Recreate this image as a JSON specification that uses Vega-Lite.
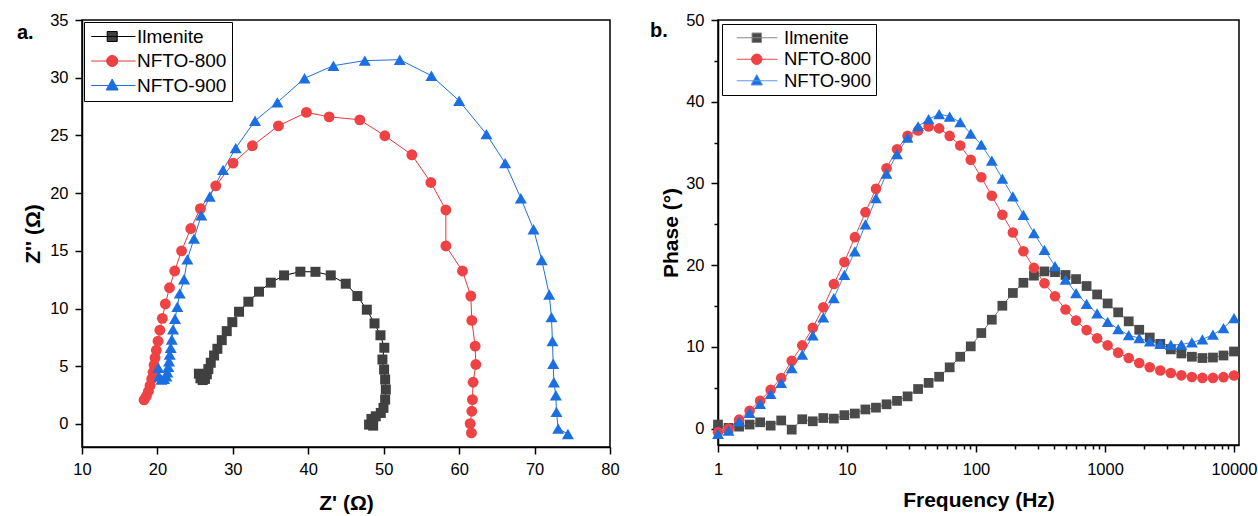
{
  "$schema": "https://vega.github.io/schema/vega-lite/v6.json",
  "background": "white",
  "padding": {"left": 16, "top": 11, "right": 0, "bottom": 0},
  "config": {
    "view": {"stroke": "black", "strokeWidth": 1.5},
    "axis": {
      "domainColor": "black", "domainWidth": 1.5, "tickColor": "black", "tickWidth": 1.5,
      "labelFont": "Liberation Sans", "labelFontSize": 16.5, "labelColor": "black", "labelPadding": 7,
      "titleFont": "Liberation Sans", "titleFontSize": 21, "titleFontWeight": "bold", "titleColor": "black",
      "grid": false, "labelFlush": false
    }
  },
  "datasets": {
    "nyq": [
      {"sample": "Ilmenite", "n": 1, "zre": 25.5, "zim": 4.35},
      {"sample": "Ilmenite", "n": 2, "zre": 25.7, "zim": 3.95},
      {"sample": "Ilmenite", "n": 3, "zre": 26.0, "zim": 3.8},
      {"sample": "Ilmenite", "n": 4, "zre": 26.3, "zim": 3.9},
      {"sample": "Ilmenite", "n": 5, "zre": 26.55, "zim": 4.3},
      {"sample": "Ilmenite", "n": 6, "zre": 26.75, "zim": 4.75},
      {"sample": "Ilmenite", "n": 7, "zre": 27.07, "zim": 5.3},
      {"sample": "Ilmenite", "n": 8, "zre": 27.51, "zim": 5.93},
      {"sample": "Ilmenite", "n": 9, "zre": 27.95, "zim": 6.51},
      {"sample": "Ilmenite", "n": 10, "zre": 28.53, "zim": 7.26},
      {"sample": "Ilmenite", "n": 11, "zre": 29.19, "zim": 8.04},
      {"sample": "Ilmenite", "n": 12, "zre": 29.93, "zim": 8.82},
      {"sample": "Ilmenite", "n": 13, "zre": 30.82, "zim": 9.72},
      {"sample": "Ilmenite", "n": 14, "zre": 32.06, "zim": 10.59},
      {"sample": "Ilmenite", "n": 15, "zre": 33.47, "zim": 11.46},
      {"sample": "Ilmenite", "n": 16, "zre": 35.03, "zim": 12.24},
      {"sample": "Ilmenite", "n": 17, "zre": 36.79, "zim": 12.87},
      {"sample": "Ilmenite", "n": 18, "zre": 38.95, "zim": 13.19},
      {"sample": "Ilmenite", "n": 19, "zre": 40.95, "zim": 13.18},
      {"sample": "Ilmenite", "n": 20, "zre": 42.98, "zim": 12.87},
      {"sample": "Ilmenite", "n": 21, "zre": 44.97, "zim": 12.15},
      {"sample": "Ilmenite", "n": 22, "zre": 46.51, "zim": 11.08},
      {"sample": "Ilmenite", "n": 23, "zre": 47.76, "zim": 9.9},
      {"sample": "Ilmenite", "n": 24, "zre": 48.78, "zim": 8.71},
      {"sample": "Ilmenite", "n": 25, "zre": 49.57, "zim": 7.68},
      {"sample": "Ilmenite", "n": 26, "zre": 50.08, "zim": 6.6},
      {"sample": "Ilmenite", "n": 27, "zre": 49.83, "zim": 5.58},
      {"sample": "Ilmenite", "n": 28, "zre": 50.05, "zim": 4.71},
      {"sample": "Ilmenite", "n": 29, "zre": 50.19, "zim": 3.85},
      {"sample": "Ilmenite", "n": 30, "zre": 50.28, "zim": 2.98},
      {"sample": "Ilmenite", "n": 31, "zre": 50.19, "zim": 2.11},
      {"sample": "Ilmenite", "n": 32, "zre": 49.97, "zim": 1.39},
      {"sample": "Ilmenite", "n": 33, "zre": 49.61, "zim": 0.95},
      {"sample": "Ilmenite", "n": 34, "zre": 48.95, "zim": 0.66},
      {"sample": "Ilmenite", "n": 35, "zre": 48.37, "zim": 0.43},
      {"sample": "Ilmenite", "n": 36, "zre": 48.06, "zim": -0.06},
      {"sample": "Ilmenite", "n": 37, "zre": 48.6, "zim": -0.15},
      {"sample": "NFTO-800", "n": 1, "zre": 18.22, "zim": 2.08},
      {"sample": "NFTO-800", "n": 2, "zre": 18.53, "zim": 2.4},
      {"sample": "NFTO-800", "n": 3, "zre": 18.8, "zim": 2.83},
      {"sample": "NFTO-800", "n": 4, "zre": 19.02, "zim": 3.32},
      {"sample": "NFTO-800", "n": 5, "zre": 19.24, "zim": 3.9},
      {"sample": "NFTO-800", "n": 6, "zre": 19.42, "zim": 4.48},
      {"sample": "NFTO-800", "n": 7, "zre": 19.55, "zim": 5.1},
      {"sample": "NFTO-800", "n": 8, "zre": 19.68, "zim": 5.73},
      {"sample": "NFTO-800", "n": 9, "zre": 19.85, "zim": 6.38},
      {"sample": "NFTO-800", "n": 10, "zre": 20.08, "zim": 7.17},
      {"sample": "NFTO-800", "n": 11, "zre": 20.32, "zim": 8.12},
      {"sample": "NFTO-800", "n": 12, "zre": 20.65, "zim": 9.15},
      {"sample": "NFTO-800", "n": 13, "zre": 21.05, "zim": 10.4},
      {"sample": "NFTO-800", "n": 14, "zre": 21.6, "zim": 11.8},
      {"sample": "NFTO-800", "n": 15, "zre": 22.29, "zim": 13.25},
      {"sample": "NFTO-800", "n": 16, "zre": 23.2, "zim": 15.0},
      {"sample": "NFTO-800", "n": 17, "zre": 24.42, "zim": 16.93},
      {"sample": "NFTO-800", "n": 18, "zre": 25.69, "zim": 18.66},
      {"sample": "NFTO-800", "n": 19, "zre": 27.73, "zim": 20.63},
      {"sample": "NFTO-800", "n": 20, "zre": 30.03, "zim": 22.6},
      {"sample": "NFTO-800", "n": 21, "zre": 32.59, "zim": 24.1},
      {"sample": "NFTO-800", "n": 22, "zre": 36.04, "zim": 25.83},
      {"sample": "NFTO-800", "n": 23, "zre": 39.75, "zim": 26.99},
      {"sample": "NFTO-800", "n": 24, "zre": 42.76, "zim": 26.61},
      {"sample": "NFTO-800", "n": 25, "zre": 46.83, "zim": 26.35},
      {"sample": "NFTO-800", "n": 26, "zre": 50.15, "zim": 24.97},
      {"sample": "NFTO-800", "n": 27, "zre": 53.73, "zim": 23.32},
      {"sample": "NFTO-800", "n": 28, "zre": 56.25, "zim": 20.92},
      {"sample": "NFTO-800", "n": 29, "zre": 58.24, "zim": 18.54},
      {"sample": "NFTO-800", "n": 30, "zre": 58.24, "zim": 15.42},
      {"sample": "NFTO-800", "n": 31, "zre": 60.44, "zim": 13.25},
      {"sample": "NFTO-800", "n": 32, "zre": 61.55, "zim": 11.08},
      {"sample": "NFTO-800", "n": 33, "zre": 61.68, "zim": 8.97},
      {"sample": "NFTO-800", "n": 34, "zre": 62.12, "zim": 6.74},
      {"sample": "NFTO-800", "n": 35, "zre": 62.21, "zim": 5.15},
      {"sample": "NFTO-800", "n": 36, "zre": 61.85, "zim": 3.61},
      {"sample": "NFTO-800", "n": 37, "zre": 61.76, "zim": 2.11},
      {"sample": "NFTO-800", "n": 38, "zre": 61.68, "zim": 1.1},
      {"sample": "NFTO-800", "n": 39, "zre": 61.46, "zim": 0.03},
      {"sample": "NFTO-800", "n": 40, "zre": 61.63, "zim": -0.78},
      {"sample": "NFTO-900", "n": 1, "zre": 20.12, "zim": 4.86},
      {"sample": "NFTO-900", "n": 2, "zre": 20.21, "zim": 4.13},
      {"sample": "NFTO-900", "n": 3, "zre": 20.52, "zim": 3.85},
      {"sample": "NFTO-900", "n": 4, "zre": 20.88, "zim": 3.9},
      {"sample": "NFTO-900", "n": 5, "zre": 21.19, "zim": 4.13},
      {"sample": "NFTO-900", "n": 6, "zre": 21.32, "zim": 4.48},
      {"sample": "NFTO-900", "n": 7, "zre": 21.45, "zim": 4.95},
      {"sample": "NFTO-900", "n": 8, "zre": 21.54, "zim": 5.43},
      {"sample": "NFTO-900", "n": 9, "zre": 21.63, "zim": 6.02},
      {"sample": "NFTO-900", "n": 10, "zre": 21.76, "zim": 6.6},
      {"sample": "NFTO-900", "n": 11, "zre": 21.9, "zim": 7.32},
      {"sample": "NFTO-900", "n": 12, "zre": 22.07, "zim": 8.19},
      {"sample": "NFTO-900", "n": 13, "zre": 22.33, "zim": 9.11},
      {"sample": "NFTO-900", "n": 14, "zre": 22.64, "zim": 10.15},
      {"sample": "NFTO-900", "n": 15, "zre": 22.96, "zim": 11.31},
      {"sample": "NFTO-900", "n": 16, "zre": 23.53, "zim": 12.53},
      {"sample": "NFTO-900", "n": 17, "zre": 23.97, "zim": 14.26},
      {"sample": "NFTO-900", "n": 18, "zre": 24.85, "zim": 16.06},
      {"sample": "NFTO-900", "n": 19, "zre": 25.82, "zim": 18.08},
      {"sample": "NFTO-900", "n": 20, "zre": 26.94, "zim": 19.7},
      {"sample": "NFTO-900", "n": 21, "zre": 28.7, "zim": 22.01},
      {"sample": "NFTO-900", "n": 22, "zre": 30.38, "zim": 23.9},
      {"sample": "NFTO-900", "n": 23, "zre": 32.94, "zim": 26.27},
      {"sample": "NFTO-900", "n": 24, "zre": 35.9, "zim": 27.86},
      {"sample": "NFTO-900", "n": 25, "zre": 39.5, "zim": 29.95},
      {"sample": "NFTO-900", "n": 26, "zre": 43.33, "zim": 31.04},
      {"sample": "NFTO-900", "n": 27, "zre": 47.49, "zim": 31.48},
      {"sample": "NFTO-900", "n": 28, "zre": 52.13, "zim": 31.56},
      {"sample": "NFTO-900", "n": 29, "zre": 56.33, "zim": 30.17},
      {"sample": "NFTO-900", "n": 30, "zre": 60.0, "zim": 28.0},
      {"sample": "NFTO-900", "n": 31, "zre": 63.62, "zim": 25.11},
      {"sample": "NFTO-900", "n": 32, "zre": 66.1, "zim": 22.6},
      {"sample": "NFTO-900", "n": 33, "zre": 68.18, "zim": 19.56},
      {"sample": "NFTO-900", "n": 34, "zre": 69.86, "zim": 16.87},
      {"sample": "NFTO-900", "n": 35, "zre": 70.95, "zim": 14.2},
      {"sample": "NFTO-900", "n": 36, "zre": 71.94, "zim": 11.22},
      {"sample": "NFTO-900", "n": 37, "zre": 72.24, "zim": 9.25},
      {"sample": "NFTO-900", "n": 38, "zre": 72.37, "zim": 7.17},
      {"sample": "NFTO-900", "n": 39, "zre": 72.47, "zim": 5.21},
      {"sample": "NFTO-900", "n": 40, "zre": 72.56, "zim": 3.61},
      {"sample": "NFTO-900", "n": 41, "zre": 72.82, "zim": 2.48},
      {"sample": "NFTO-900", "n": 42, "zre": 72.9, "zim": 1.04},
      {"sample": "NFTO-900", "n": 43, "zre": 73.13, "zim": -0.41},
      {"sample": "NFTO-900", "n": 44, "zre": 74.42, "zim": -0.87}
    ],
    "bode": [
      {"sample": "Ilmenite", "freq": 1, "phase": 0.5},
      {"sample": "Ilmenite", "freq": 1.207, "phase": 0.1},
      {"sample": "Ilmenite", "freq": 1.457, "phase": 0.25},
      {"sample": "Ilmenite", "freq": 1.758, "phase": 0.5},
      {"sample": "Ilmenite", "freq": 2.121, "phase": 0.78},
      {"sample": "Ilmenite", "freq": 2.56, "phase": 0.37},
      {"sample": "Ilmenite", "freq": 3.089, "phase": 1.0},
      {"sample": "Ilmenite", "freq": 3.728, "phase": -0.12},
      {"sample": "Ilmenite", "freq": 4.498, "phase": 1.15},
      {"sample": "Ilmenite", "freq": 5.429, "phase": 0.9},
      {"sample": "Ilmenite", "freq": 6.551, "phase": 1.3},
      {"sample": "Ilmenite", "freq": 7.906, "phase": 1.23},
      {"sample": "Ilmenite", "freq": 9.541, "phase": 1.65},
      {"sample": "Ilmenite", "freq": 11.51, "phase": 1.85},
      {"sample": "Ilmenite", "freq": 13.89, "phase": 2.35},
      {"sample": "Ilmenite", "freq": 16.77, "phase": 2.57},
      {"sample": "Ilmenite", "freq": 20.24, "phase": 2.98},
      {"sample": "Ilmenite", "freq": 24.42, "phase": 3.4},
      {"sample": "Ilmenite", "freq": 29.47, "phase": 3.95},
      {"sample": "Ilmenite", "freq": 35.56, "phase": 4.85},
      {"sample": "Ilmenite", "freq": 42.92, "phase": 5.6},
      {"sample": "Ilmenite", "freq": 51.79, "phase": 6.35},
      {"sample": "Ilmenite", "freq": 62.51, "phase": 7.5},
      {"sample": "Ilmenite", "freq": 75.43, "phase": 8.8},
      {"sample": "Ilmenite", "freq": 91.03, "phase": 10.07},
      {"sample": "Ilmenite", "freq": 109.9, "phase": 11.7},
      {"sample": "Ilmenite", "freq": 132.6, "phase": 13.33},
      {"sample": "Ilmenite", "freq": 160.0, "phase": 15.04},
      {"sample": "Ilmenite", "freq": 193.1, "phase": 16.6},
      {"sample": "Ilmenite", "freq": 233.0, "phase": 17.85},
      {"sample": "Ilmenite", "freq": 281.2, "phase": 18.72},
      {"sample": "Ilmenite", "freq": 339.3, "phase": 19.24},
      {"sample": "Ilmenite", "freq": 409.5, "phase": 19.15},
      {"sample": "Ilmenite", "freq": 494.2, "phase": 18.8},
      {"sample": "Ilmenite", "freq": 596.4, "phase": 18.3},
      {"sample": "Ilmenite", "freq": 719.7, "phase": 17.45},
      {"sample": "Ilmenite", "freq": 868.5, "phase": 16.42},
      {"sample": "Ilmenite", "freq": 1048, "phase": 15.32},
      {"sample": "Ilmenite", "freq": 1265, "phase": 14.23},
      {"sample": "Ilmenite", "freq": 1526, "phase": 13.13},
      {"sample": "Ilmenite", "freq": 1842, "phase": 12.1},
      {"sample": "Ilmenite", "freq": 2223, "phase": 11.15},
      {"sample": "Ilmenite", "freq": 2683, "phase": 10.38},
      {"sample": "Ilmenite", "freq": 3237, "phase": 9.7},
      {"sample": "Ilmenite", "freq": 3907, "phase": 9.2},
      {"sample": "Ilmenite", "freq": 4715, "phase": 8.8},
      {"sample": "Ilmenite", "freq": 5690, "phase": 8.64},
      {"sample": "Ilmenite", "freq": 6866, "phase": 8.7},
      {"sample": "Ilmenite", "freq": 8286, "phase": 8.95},
      {"sample": "Ilmenite", "freq": 10000, "phase": 9.44},
      {"sample": "NFTO-800", "freq": 1, "phase": -0.45},
      {"sample": "NFTO-800", "freq": 1.207, "phase": 0.0},
      {"sample": "NFTO-800", "freq": 1.457, "phase": 1.1},
      {"sample": "NFTO-800", "freq": 1.758, "phase": 2.2},
      {"sample": "NFTO-800", "freq": 2.121, "phase": 3.42},
      {"sample": "NFTO-800", "freq": 2.56, "phase": 4.77},
      {"sample": "NFTO-800", "freq": 3.089, "phase": 6.2},
      {"sample": "NFTO-800", "freq": 3.728, "phase": 8.31},
      {"sample": "NFTO-800", "freq": 4.498, "phase": 10.19},
      {"sample": "NFTO-800", "freq": 5.429, "phase": 12.35},
      {"sample": "NFTO-800", "freq": 6.551, "phase": 14.84},
      {"sample": "NFTO-800", "freq": 7.906, "phase": 17.69},
      {"sample": "NFTO-800", "freq": 9.541, "phase": 20.38},
      {"sample": "NFTO-800", "freq": 11.51, "phase": 23.43},
      {"sample": "NFTO-800", "freq": 13.89, "phase": 26.49},
      {"sample": "NFTO-800", "freq": 16.77, "phase": 29.34},
      {"sample": "NFTO-800", "freq": 20.24, "phase": 31.87},
      {"sample": "NFTO-800", "freq": 24.42, "phase": 34.19},
      {"sample": "NFTO-800", "freq": 29.47, "phase": 35.82},
      {"sample": "NFTO-800", "freq": 35.56, "phase": 36.48},
      {"sample": "NFTO-800", "freq": 42.92, "phase": 36.97},
      {"sample": "NFTO-800", "freq": 51.79, "phase": 36.74},
      {"sample": "NFTO-800", "freq": 62.51, "phase": 35.82},
      {"sample": "NFTO-800", "freq": 75.43, "phase": 34.64},
      {"sample": "NFTO-800", "freq": 91.03, "phase": 32.89},
      {"sample": "NFTO-800", "freq": 109.9, "phase": 30.75},
      {"sample": "NFTO-800", "freq": 132.6, "phase": 28.49},
      {"sample": "NFTO-800", "freq": 160.0, "phase": 26.18},
      {"sample": "NFTO-800", "freq": 193.1, "phase": 24.0},
      {"sample": "NFTO-800", "freq": 233.0, "phase": 21.7},
      {"sample": "NFTO-800", "freq": 281.2, "phase": 19.67},
      {"sample": "NFTO-800", "freq": 339.3, "phase": 17.8},
      {"sample": "NFTO-800", "freq": 409.5, "phase": 16.2},
      {"sample": "NFTO-800", "freq": 494.2, "phase": 14.57},
      {"sample": "NFTO-800", "freq": 596.4, "phase": 13.22},
      {"sample": "NFTO-800", "freq": 719.7, "phase": 12.06},
      {"sample": "NFTO-800", "freq": 868.5, "phase": 11.05},
      {"sample": "NFTO-800", "freq": 1048, "phase": 10.19},
      {"sample": "NFTO-800", "freq": 1265, "phase": 9.3},
      {"sample": "NFTO-800", "freq": 1526, "phase": 8.64},
      {"sample": "NFTO-800", "freq": 1842, "phase": 8.03},
      {"sample": "NFTO-800", "freq": 2223, "phase": 7.52},
      {"sample": "NFTO-800", "freq": 2683, "phase": 7.11},
      {"sample": "NFTO-800", "freq": 3237, "phase": 6.81},
      {"sample": "NFTO-800", "freq": 3907, "phase": 6.52},
      {"sample": "NFTO-800", "freq": 4715, "phase": 6.32},
      {"sample": "NFTO-800", "freq": 5690, "phase": 6.21},
      {"sample": "NFTO-800", "freq": 6866, "phase": 6.21},
      {"sample": "NFTO-800", "freq": 8286, "phase": 6.3},
      {"sample": "NFTO-800", "freq": 10000, "phase": 6.5},
      {"sample": "NFTO-900", "freq": 1, "phase": -0.65},
      {"sample": "NFTO-900", "freq": 1.207, "phase": -0.24},
      {"sample": "NFTO-900", "freq": 1.457, "phase": 0.9},
      {"sample": "NFTO-900", "freq": 1.758, "phase": 1.92},
      {"sample": "NFTO-900", "freq": 2.121, "phase": 3.02},
      {"sample": "NFTO-900", "freq": 2.56, "phase": 4.24},
      {"sample": "NFTO-900", "freq": 3.089, "phase": 5.59},
      {"sample": "NFTO-900", "freq": 3.728, "phase": 7.42},
      {"sample": "NFTO-900", "freq": 4.498, "phase": 9.05},
      {"sample": "NFTO-900", "freq": 5.429, "phase": 11.42},
      {"sample": "NFTO-900", "freq": 6.551, "phase": 13.62},
      {"sample": "NFTO-900", "freq": 7.906, "phase": 15.98},
      {"sample": "NFTO-900", "freq": 9.541, "phase": 18.83},
      {"sample": "NFTO-900", "freq": 11.51, "phase": 21.7},
      {"sample": "NFTO-900", "freq": 13.89, "phase": 25.0},
      {"sample": "NFTO-900", "freq": 16.77, "phase": 28.2},
      {"sample": "NFTO-900", "freq": 20.24, "phase": 31.2},
      {"sample": "NFTO-900", "freq": 24.42, "phase": 33.58},
      {"sample": "NFTO-900", "freq": 29.47, "phase": 35.62},
      {"sample": "NFTO-900", "freq": 35.56, "phase": 37.0},
      {"sample": "NFTO-900", "freq": 42.92, "phase": 37.86},
      {"sample": "NFTO-900", "freq": 51.79, "phase": 38.49},
      {"sample": "NFTO-900", "freq": 62.51, "phase": 38.19},
      {"sample": "NFTO-900", "freq": 75.43, "phase": 37.5},
      {"sample": "NFTO-900", "freq": 91.03, "phase": 36.1},
      {"sample": "NFTO-900", "freq": 109.9, "phase": 34.75},
      {"sample": "NFTO-900", "freq": 132.6, "phase": 32.8},
      {"sample": "NFTO-900", "freq": 160.0, "phase": 30.6},
      {"sample": "NFTO-900", "freq": 193.1, "phase": 28.41},
      {"sample": "NFTO-900", "freq": 233.0, "phase": 26.16},
      {"sample": "NFTO-900", "freq": 281.2, "phase": 23.92},
      {"sample": "NFTO-900", "freq": 339.3, "phase": 21.88},
      {"sample": "NFTO-900", "freq": 409.5, "phase": 19.9},
      {"sample": "NFTO-900", "freq": 494.2, "phase": 18.22},
      {"sample": "NFTO-900", "freq": 596.4, "phase": 16.59},
      {"sample": "NFTO-900", "freq": 719.7, "phase": 15.28},
      {"sample": "NFTO-900", "freq": 868.5, "phase": 14.1},
      {"sample": "NFTO-900", "freq": 1048, "phase": 13.07},
      {"sample": "NFTO-900", "freq": 1265, "phase": 12.19},
      {"sample": "NFTO-900", "freq": 1526, "phase": 11.43},
      {"sample": "NFTO-900", "freq": 1842, "phase": 11.07},
      {"sample": "NFTO-900", "freq": 2223, "phase": 10.68},
      {"sample": "NFTO-900", "freq": 2683, "phase": 10.37},
      {"sample": "NFTO-900", "freq": 3237, "phase": 10.25},
      {"sample": "NFTO-900", "freq": 3907, "phase": 10.29},
      {"sample": "NFTO-900", "freq": 4715, "phase": 10.56},
      {"sample": "NFTO-900", "freq": 5690, "phase": 10.92},
      {"sample": "NFTO-900", "freq": 6866, "phase": 11.5},
      {"sample": "NFTO-900", "freq": 8286, "phase": 12.31},
      {"sample": "NFTO-900", "freq": 10000, "phase": 13.53}
    ]
  },
  "spacing": 29,
  "resolve": {
    "scale": {"x": "independent", "y": "independent", "fill": "independent", "stroke": "independent", "shape": "independent"},
    "legend": {"fill": "independent", "stroke": "independent", "shape": "independent"}
  },
  "hconcat": [
    {
      "width": 528,
      "height": 427,
      "layer": [
        {
          "data": {"name": "nyq"},
          "mark": {"type": "line", "strokeWidth": 1},
          "encoding": {
            "x": {"field": "zre", "type": "quantitative", "scale": {"domain": [10, 80], "nice": false, "zero": false},
              "axis": {"title": "Z' (Ω)", "titlePadding": 15,
                "values": [10, 15, 20, 25, 30, 35, 40, 45, 50, 55, 60, 65, 70, 75, 80],
                "labelExpr": "datum.value % 10 === 0 ? datum.label : ''",
                "tickSize": {"condition": {"test": "datum.value % 10 === 0", "value": 7}, "value": 4}}},
            "y": {"field": "zim", "type": "quantitative", "scale": {"domain": [-2, 35], "nice": false, "zero": false},
              "axis": {"title": "Z'' (Ω)", "titlePadding": 6,
                "values": [0, 2.5, 5, 7.5, 10, 12.5, 15, 17.5, 20, 22.5, 25, 27.5, 30, 32.5, 35],
                "labelExpr": "datum.value % 5 === 0 ? datum.label : ''",
                "tickSize": {"condition": {"test": "datum.value % 5 === 0", "value": 7}, "value": 4}}},
            "order": {"field": "n", "type": "quantitative"},
            "detail": {"field": "sample", "type": "nominal"},
            "stroke": {"condition": [{"test": "datum.sample === 'Ilmenite'", "value": "#000000"}, {"test": "datum.sample === 'NFTO-800'", "value": "#e8383b"}], "value": "#1f6fe0"}
          }
        },
        {
          "data": {"name": "nyq"},
          "mark": {"type": "point", "filled": true, "opacity": 1, "strokeWidth": 0},
          "encoding": {
            "x": {"field": "zre", "type": "quantitative"},
            "y": {"field": "zim", "type": "quantitative"},
            "size": {"condition": [{"test": "datum.sample === 'Ilmenite'", "value": 100}, {"test": "datum.sample === 'NFTO-800'", "value": 118}], "value": 144},
            "shape": {"condition": [{"test": "datum.sample === 'Ilmenite'", "value": "square"}, {"test": "datum.sample === 'NFTO-800'", "value": "circle"}], "value": "triangle-up"},
            "color": {"condition": [{"test": "datum.sample === 'Ilmenite'", "value": "#404040"}, {"test": "datum.sample === 'NFTO-800'", "value": "#ef4245"}], "value": "#1b6fe0"}
          }
        },
        {
          "data": {"name": "nyq"},
          "transform": [{"filter": "false"}],
          "mark": {"type": "point", "filled": true, "opacity": 1},
          "encoding": {
            "x": {"field": "zre", "type": "quantitative"},
            "y": {"field": "zim", "type": "quantitative"},
            "fill": {"field": "sample", "type": "nominal",
              "scale": {"domain": ["Ilmenite", "NFTO-800", "NFTO-900"], "range": ["#404040", "#ef4245", "#1b6fe0"]},
              "legend": {
                "title": null, "orient": "top-left", "offset": 2,
                "fillColor": "white", "strokeColor": "black",
                "padding": 5, "rowPadding": 4.5,
                "labelFont": "Liberation Sans", "labelFontSize": 19, "labelColor": "black",
                "symbolSize": 100, "labelOffset": 29, "symbolStrokeWidth": 1, "symbolOpacity": 1
              }},
            "stroke": {"field": "sample", "type": "nominal",
              "scale": {"domain": ["Ilmenite", "NFTO-800", "NFTO-900"], "range": ["#000000", "#e8383b", "#1f6fe0"]},
              "legend": {"title": null}},
            "shape": {"field": "sample", "type": "nominal",
              "scale": {"domain": ["Ilmenite", "NFTO-800", "NFTO-900"], "range": [
                "M-1.46,0H7.4M1.74,-1H3.74V1H1.74Z",
                "M3.84,0A1.1,1.1,0,1,1,1.64,0A1.1,1.1,0,1,1,3.84,0Z M-1.46,0H7.4",
                "M2.74,-1.3L3.94,0.9L1.54,0.9Z M-1.46,0H7.4"]},
              "legend": {"title": null}}
          }
        },
        {
          "data": {"values": [{"label": "a."}]},
          "mark": {"type": "text", "align": "left", "baseline": "alphabetic", "font": "Liberation Sans", "fontSize": 20, "fontWeight": "bold", "color": "black"},
          "encoding": {
            "x": {"datum": 1.38, "type": "quantitative"},
            "y": {"datum": 33.35, "type": "quantitative"},
            "text": {"field": "label", "type": "nominal"}
          }
        }
      ]
    },
    {
      "width": 521,
      "height": 425,
      "layer": [
        {
          "data": {"name": "bode"},
          "mark": {"type": "line", "strokeWidth": 1},
          "encoding": {
            "x": {"field": "freq", "type": "quantitative", "scale": {"type": "log", "domain": [1, 10930], "nice": false},
              "axis": {"title": "Frequency (Hz)", "titlePadding": 12, "format": "d", "labelPadding": 9,
                "values": [1, 2, 3, 4, 5, 6, 7, 8, 9, 10, 20, 30, 40, 50, 60, 70, 80, 90, 100, 200, 300, 400, 500, 600, 700, 800, 900, 1000, 2000, 3000, 4000, 5000, 6000, 7000, 8000, 9000, 10000],
                "labelExpr": "(datum.value === 1 || datum.value === 10 || datum.value === 100 || datum.value === 1000 || datum.value === 10000) ? datum.label : ''",
                "tickSize": {"condition": {"test": "datum.value === 1 || datum.value === 10 || datum.value === 100 || datum.value === 1000 || datum.value === 10000", "value": 7}, "value": 4}}},
            "y": {"field": "phase", "type": "quantitative", "scale": {"domain": [-2, 50], "nice": false, "zero": false},
              "axis": {"title": "Phase (°)", "titlePadding": 4,
                "values": [0, 5, 10, 15, 20, 25, 30, 35, 40, 45, 50],
                "labelExpr": "datum.value % 10 === 0 ? datum.label : ''",
                "tickSize": {"condition": {"test": "datum.value % 10 === 0", "value": 7}, "value": 4}}},
            "detail": {"field": "sample", "type": "nominal"},
            "stroke": {"condition": [{"test": "datum.sample === 'Ilmenite'", "value": "#777777"}, {"test": "datum.sample === 'NFTO-800'", "value": "#ee4444"}], "value": "#3a84e4"}
          }
        },
        {
          "data": {"name": "bode"},
          "mark": {"type": "point", "filled": true, "opacity": 1, "strokeWidth": 0},
          "encoding": {
            "x": {"field": "freq", "type": "quantitative"},
            "y": {"field": "phase", "type": "quantitative"},
            "size": {"condition": [{"test": "datum.sample === 'Ilmenite'", "value": 95}, {"test": "datum.sample === 'NFTO-800'", "value": 112}], "value": 140},
            "shape": {"condition": [{"test": "datum.sample === 'Ilmenite'", "value": "square"}, {"test": "datum.sample === 'NFTO-800'", "value": "circle"}], "value": "triangle-up"},
            "color": {"condition": [{"test": "datum.sample === 'Ilmenite'", "value": "#4a4a4a"}, {"test": "datum.sample === 'NFTO-800'", "value": "#ef4245"}], "value": "#1b6fe0"}
          }
        },
        {
          "data": {"name": "bode"},
          "transform": [{"filter": "false"}],
          "mark": {"type": "point", "filled": true, "opacity": 1},
          "encoding": {
            "x": {"field": "freq", "type": "quantitative"},
            "y": {"field": "phase", "type": "quantitative"},
            "fill": {"field": "sample", "type": "nominal",
              "scale": {"domain": ["Ilmenite", "NFTO-800", "NFTO-900"], "range": ["#4a4a4a", "#ef4245", "#1b6fe0"]},
              "legend": {
                "title": null, "orient": "top-left", "offset": 4,
                "fillColor": "white", "strokeColor": "black",
                "padding": 4.5, "rowPadding": 2.5,
                "labelFont": "Liberation Sans", "labelFontSize": 18.5, "labelColor": "black",
                "symbolSize": 100, "labelOffset": 39, "symbolStrokeWidth": 1, "symbolOpacity": 1
              }},
            "stroke": {"field": "sample", "type": "nominal",
              "scale": {"domain": ["Ilmenite", "NFTO-800", "NFTO-900"], "range": ["#888888", "#ee4444", "#5a98e8"]},
              "legend": {"title": null}},
            "shape": {"field": "sample", "type": "nominal",
              "scale": {"domain": ["Ilmenite", "NFTO-800", "NFTO-900"], "range": [
                "M0.2,0H8.34M3.25,-0.95H5.15V0.95H3.25Z",
                "M5.25,0A1.05,1.05,0,1,1,3.15,0A1.05,1.05,0,1,1,5.25,0Z M0.2,0H8.34",
                "M4.2,-1.25L5.35,0.85L3.05,0.85Z M0.2,0H8.34"]},
              "legend": {"title": null}}
          }
        },
        {
          "data": {"values": [{"label": "b."}]},
          "mark": {"type": "text", "align": "left", "baseline": "alphabetic", "font": "Liberation Sans", "fontSize": 20, "fontWeight": "bold", "color": "black"},
          "encoding": {
            "x": {"datum": 0.2967, "type": "quantitative"},
            "y": {"datum": 47.92, "type": "quantitative"},
            "text": {"field": "label", "type": "nominal"}
          }
        }
      ]
    }
  ]
}
